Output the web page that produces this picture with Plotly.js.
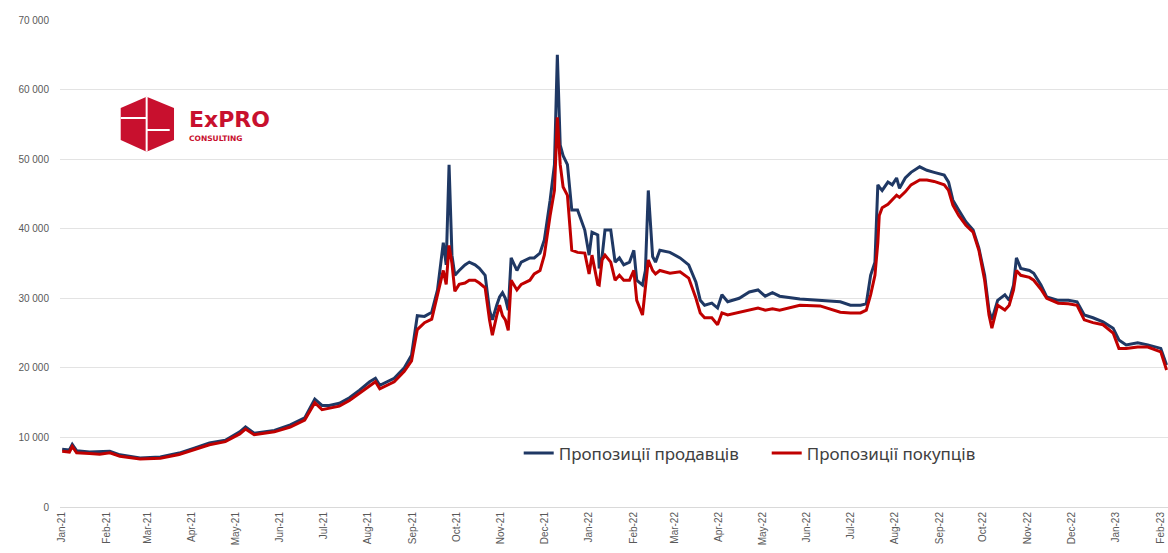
<!DOCTYPE html>
<html><head><meta charset="utf-8">
<script src="https://cdn.plot.ly/plotly-3.0.1.min.js"></script>
<style>html,body{margin:0;padding:0;background:#fff}#chart{width:1168px;height:553px}</style>
</head><body><div id="chart"></div>
<script>
const dates = [
'2021-01-01','2021-01-06','2021-01-08','2021-01-11','2021-01-20','2021-01-27','2021-02-03','2021-02-10','2021-02-24','2021-03-10',
'2021-03-23','2021-04-03','2021-04-13','2021-04-24','2021-05-04','2021-05-08','2021-05-14','2021-05-28','2021-06-08','2021-06-18',
'2021-06-25','2021-06-30','2021-07-05','2021-07-12','2021-07-19','2021-07-26','2021-08-02','2021-08-06','2021-08-09','2021-08-19',
'2021-08-26','2021-08-31','2021-09-04','2021-09-09','2021-09-14','2021-09-18','2021-09-22','2021-09-24','2021-09-26','2021-09-28',
'2021-09-30','2021-10-03','2021-10-07','2021-10-10','2021-10-14','2021-10-17','2021-10-21','2021-10-24','2021-10-26','2021-10-29',
'2021-10-31','2021-11-02','2021-11-04','2021-11-06','2021-11-08','2021-11-12','2021-11-15','2021-11-21','2021-11-24','2021-11-28',
'2021-12-01','2021-12-05','2021-12-08','2021-12-10','2021-12-12','2021-12-14','2021-12-17','2021-12-20','2021-12-24','2021-12-29',
'2022-01-01','2022-01-03','2022-01-07','2022-01-08','2022-01-10','2022-01-12','2022-01-16','2022-01-19','2022-01-22','2022-01-25',
'2022-01-29','2022-02-01','2022-02-03','2022-02-07','2022-02-09','2022-02-11','2022-02-14','2022-02-16','2022-02-19','2022-02-26',
'2022-03-05','2022-03-11','2022-03-16','2022-03-19','2022-03-22','2022-03-27','2022-03-31','2022-04-03','2022-04-07','2022-04-15',
'2022-04-22','2022-04-28','2022-05-03','2022-05-08','2022-05-13','2022-05-27','2022-06-10','2022-06-24','2022-07-01','2022-07-08',
'2022-07-12','2022-07-15','2022-07-18','2022-07-20','2022-07-21','2022-07-23','2022-07-27','2022-07-30','2022-08-02','2022-08-04',
'2022-08-08','2022-08-12','2022-08-18','2022-08-23','2022-08-28','2022-09-04','2022-09-07','2022-09-10','2022-09-14','2022-09-19',
'2022-09-24','2022-09-28','2022-10-02','2022-10-05','2022-10-07','2022-10-11','2022-10-16','2022-10-19','2022-10-22','2022-10-24',
'2022-10-27','2022-11-02','2022-11-05','2022-11-10','2022-11-14','2022-11-22','2022-11-29','2022-12-05','2022-12-10','2022-12-16',
'2022-12-23','2022-12-30','2023-01-03','2023-01-08','2023-01-16','2023-01-23','2023-02-01','2023-02-05'
];
const sellers = [
8300,8200,9000,8100,7900,7900,8000,7500,7050,7200,
7750,8500,9200,9600,10800,11500,10600,11000,11800,12800,
15500,14600,14600,14900,15700,16800,18000,18500,17500,18500,
20000,21800,27500,27400,28000,31200,38000,34800,49200,36200,
33300,34000,34800,35200,34800,34300,33300,28300,26900,29000,
30200,30800,30000,28300,35800,34000,35200,35800,35800,36500,
38400,44100,49200,65000,52000,50500,49200,42700,42700,39800,
36200,39500,39100,34300,36000,39800,39800,35200,35800,34800,
35200,36900,32600,31900,34000,45500,36000,35200,36900,36600,
35800,34800,32300,29700,29000,29300,28600,30500,29500,30000,
30900,31200,30300,30800,30300,29900,29700,29500,29000,29000,
29200,33300,35200,46300,46000,45500,46700,46300,47300,45800,
47300,48100,48900,48400,48100,47700,46700,44100,42700,41000,
39800,37200,33300,28300,26900,29700,30500,29700,31900,35800,
34300,34000,33600,31900,30200,29700,29700,29500,27600,27200,
26600,25700,24000,23300,23600,23300,22800,20400
];
const buyers = [
8000,7900,8700,7800,7700,7600,7800,7300,6900,7000,
7550,8300,8950,9400,10500,11200,10400,10800,11500,12500,
15000,14000,14200,14500,15300,16400,17500,18000,17000,18000,
19500,21000,25500,26500,27000,30500,34000,32000,37600,35000,
31000,32000,32200,32600,32600,32200,31500,26900,24700,27500,
29000,27500,26900,25400,32600,31200,32000,32600,33500,34000,
36200,41900,45500,56000,49200,46000,44800,36900,36600,36500,
33500,36200,32000,31900,35500,36200,35200,32600,33300,32600,
32600,34000,29700,27600,31200,35500,34000,33500,34000,33600,
33800,32900,30000,27900,27200,27200,26200,27900,27600,28000,
28300,28600,28300,28500,28300,29000,28900,28000,27900,27900,
28300,30500,33300,38000,41900,43000,43500,44100,44800,44500,
45300,46300,47000,47000,46800,46300,45500,43400,41900,40500,
39500,36900,32600,27600,25700,29000,28300,29000,31200,34000,
33300,33000,32600,31300,30000,29300,29200,29000,26900,26500,
26200,25000,22800,22800,23000,23000,22300,19700
];
const tickDates = ['2021-01-01','2021-02-01','2021-03-01','2021-04-01','2021-05-01','2021-06-01','2021-07-01','2021-08-01','2021-09-01','2021-10-01','2021-11-01','2021-12-01',
'2022-01-01','2022-02-01','2022-03-01','2022-04-01','2022-05-01','2022-06-01','2022-07-01','2022-08-01','2022-09-01','2022-10-01','2022-11-01','2022-12-01','2023-01-01','2023-02-01'];
const tickLabels = ['Jan-21','Feb-21','Mar-21','Apr-21','May-21','Jun-21','Jul-21','Aug-21','Sep-21','Oct-21','Nov-21','Dec-21',
'Jan-22','Feb-22','Mar-22','Apr-22','May-22','Jun-22','Jul-22','Aug-22','Sep-22','Oct-22','Nov-22','Dec-22','Jan-23','Feb-23'];
const yTicks = [0,10000,20000,30000,40000,50000,60000,70000];
const seriesNames = ['Пропозиції продавців','Пропозиції покупців'];

const traces = [
  {x: dates, y: sellers, name: seriesNames[0], type: 'scatter', mode: 'lines', line: {color: '#1f3864', width: 3}},
  {x: dates, y: buyers, name: seriesNames[1], type: 'scatter', mode: 'lines', line: {color: '#c00000', width: 3}}
];

// logo geometry in paper coordinates
const hexPath = 'M 0.0548 0.8193 L 0.0782 0.8425 L 0.1029 0.8193 L 0.1029 0.7536 L 0.0782 0.7296 L 0.0548 0.7536 Z';
const layout = {
  width: 1168, height: 553,
  margin: {l: 60, r: 0, t: 20, b: 46},
  paper_bgcolor: '#ffffff', plot_bgcolor: '#ffffff',
  separators: ', ',
  showlegend: true,
  legend: {orientation: 'h', x: 0.414, y: 0.11, xanchor: 'left', yanchor: 'middle',
    font: {family: 'Noto Sans, sans-serif', size: 17, color: '#404040'}, bgcolor: 'rgba(0,0,0,0)',
    itemwidth: 30, entrywidth: 203, entrywidthmode: 'pixels'},
  xaxis: {type: 'date', range: ['2020-12-30 12:00', '2023-02-06'], tickmode: 'array', tickvals: tickDates, ticktext: tickLabels,
    tickangle: -90, tickfont: {family: 'Liberation Sans, Arial, sans-serif', size: 10, color: '#595959'},
    showgrid: false, showline: true, linecolor: '#d9d9d9', linewidth: 1, ticks: '', zeroline: false},
  yaxis: {range: [0, 70000], tickmode: 'array', tickvals: yTicks, tickformat: ',d',
    tickfont: {family: 'Liberation Sans, Arial, sans-serif', size: 10, color: '#595959'},
    showgrid: true, gridcolor: '#e3e3e3', gridwidth: 1, zeroline: false, ticks: '', ticklabelstandoff: 10, showline: false},
  shapes: [
    {type: 'path', xref: 'paper', yref: 'paper', path: hexPath, fillcolor: '#c8102e', line: {width: 0}},
    {type: 'line', xref: 'paper', yref: 'paper', x0: 0.0782, x1: 0.0782, y0: 0.7296, y1: 0.8425, line: {color: '#ffffff', width: 2}},
    {type: 'line', xref: 'paper', yref: 'paper', x0: 0.0548, x1: 0.0782, y0: 0.7988, y1: 0.7988, line: {color: '#ffffff', width: 2}},
    {type: 'line', xref: 'paper', yref: 'paper', x0: 0.0782, x1: 0.0990, y0: 0.7741, y1: 0.7741, line: {color: '#ffffff', width: 2}}
  ],
  annotations: [
    {xref: 'paper', yref: 'paper', x: 0.1145, y: 0.795, xanchor: 'left', yanchor: 'middle', text: 'ExPRO', showarrow: false,
      font: {family: 'DejaVu Sans, sans-serif', size: 22, color: '#c8102e', weight: 'bold'}},
    {xref: 'paper', yref: 'paper', x: 0.1145, y: 0.757, xanchor: 'left', yanchor: 'middle', text: 'CONSULTING', showarrow: false,
      font: {family: 'DejaVu Sans, sans-serif', size: 7.5, color: '#c8102e', weight: 'bold'}}
  ]
};
Plotly.newPlot('chart', traces, layout, {displayModeBar: false, staticPlot: true});
</script></body></html>
